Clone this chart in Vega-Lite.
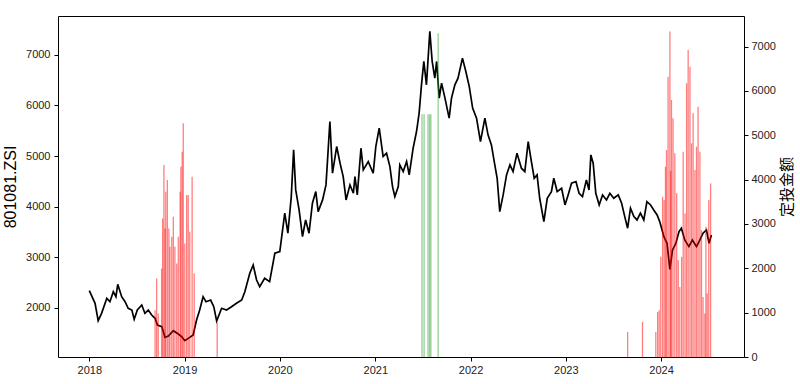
{
  "$schema": "https://vega.github.io/schema/vega-lite/v6.json",
  "autosize": {"type": "none"},
  "width": 686,
  "height": 341,
  "padding": {"left": 58, "top": 16, "right": 56, "bottom": 27},
  "background": "white",
  "config": {
    "view": {"stroke": "black", "strokeWidth": 1},
    "font": "Liberation Sans",
    "axis": {"grid": false, "domain": false, "tickColor": "black", "tickSize": 4, "labelColor": "#222", "labelFont": "Liberation Sans", "labelFontSize": 11, "titleFont": "Liberation Sans", "titleFontWeight": "normal", "titleColor": "black"}
  },
  "datasets": {
    "index": [
      {"date": "2018-01-01", "v": 2337}, {"date": "2018-01-23", "v": 2087}, {"date": "2018-02-04", "v": 1743}, {"date": "2018-02-17", "v": 1889},
      {"date": "2018-03-09", "v": 2186}, {"date": "2018-03-21", "v": 2119}, {"date": "2018-04-03", "v": 2317}, {"date": "2018-04-13", "v": 2218},
      {"date": "2018-04-20", "v": 2463}, {"date": "2018-05-05", "v": 2218}, {"date": "2018-05-18", "v": 2119}, {"date": "2018-05-30", "v": 1988},
      {"date": "2018-06-13", "v": 1954}, {"date": "2018-06-22", "v": 1770}, {"date": "2018-07-04", "v": 1954}, {"date": "2018-07-21", "v": 2053},
      {"date": "2018-08-02", "v": 1889}, {"date": "2018-08-15", "v": 1954}, {"date": "2018-08-28", "v": 1855}, {"date": "2018-09-10", "v": 1790},
      {"date": "2018-09-19", "v": 1657}, {"date": "2018-10-06", "v": 1624}, {"date": "2018-10-18", "v": 1414}, {"date": "2018-10-31", "v": 1440},
      {"date": "2018-11-19", "v": 1545}, {"date": "2018-12-08", "v": 1479}, {"date": "2018-12-21", "v": 1426}, {"date": "2019-01-02", "v": 1347},
      {"date": "2019-01-21", "v": 1414}, {"date": "2019-02-03", "v": 1459}, {"date": "2019-02-16", "v": 1756}, {"date": "2019-02-28", "v": 1954},
      {"date": "2019-03-13", "v": 2218}, {"date": "2019-03-24", "v": 2119}, {"date": "2019-04-11", "v": 2152}, {"date": "2019-04-23", "v": 2020},
      {"date": "2019-05-04", "v": 1737}, {"date": "2019-05-23", "v": 1988}, {"date": "2019-06-11", "v": 1954}, {"date": "2019-06-30", "v": 2020},
      {"date": "2019-07-19", "v": 2087}, {"date": "2019-08-08", "v": 2152}, {"date": "2019-08-20", "v": 2317}, {"date": "2019-09-08", "v": 2681},
      {"date": "2019-09-21", "v": 2845}, {"date": "2019-10-04", "v": 2548}, {"date": "2019-10-16", "v": 2416}, {"date": "2019-11-04", "v": 2582},
      {"date": "2019-11-23", "v": 2515}, {"date": "2019-12-13", "v": 3077}, {"date": "2020-01-01", "v": 3109}, {"date": "2020-01-20", "v": 3869},
      {"date": "2020-02-01", "v": 3473}, {"date": "2020-02-14", "v": 4198}, {"date": "2020-02-23", "v": 5122}, {"date": "2020-03-02", "v": 4330},
      {"date": "2020-03-15", "v": 3934}, {"date": "2020-03-28", "v": 3406}, {"date": "2020-04-09", "v": 3736}, {"date": "2020-04-22", "v": 3473},
      {"date": "2020-05-05", "v": 4066}, {"date": "2020-05-18", "v": 4297}, {"date": "2020-05-27", "v": 3901}, {"date": "2020-06-13", "v": 4132},
      {"date": "2020-06-26", "v": 4429}, {"date": "2020-07-02", "v": 4924}, {"date": "2020-07-11", "v": 5683}, {"date": "2020-07-21", "v": 4660},
      {"date": "2020-08-06", "v": 5188}, {"date": "2020-08-19", "v": 4858}, {"date": "2020-08-31", "v": 4594}, {"date": "2020-09-11", "v": 4132},
      {"date": "2020-09-26", "v": 4429}, {"date": "2020-10-09", "v": 4264}, {"date": "2020-10-15", "v": 4594}, {"date": "2020-10-24", "v": 4231},
      {"date": "2020-11-07", "v": 5155}, {"date": "2020-11-16", "v": 4726}, {"date": "2020-12-05", "v": 4891}, {"date": "2020-12-24", "v": 4660},
      {"date": "2021-01-03", "v": 5188}, {"date": "2021-01-16", "v": 5552}, {"date": "2021-01-31", "v": 4990}, {"date": "2021-02-13", "v": 5056},
      {"date": "2021-02-26", "v": 4792}, {"date": "2021-03-08", "v": 4396}, {"date": "2021-03-17", "v": 4198}, {"date": "2021-03-30", "v": 4396},
      {"date": "2021-04-05", "v": 4825}, {"date": "2021-04-18", "v": 4693}, {"date": "2021-05-01", "v": 4891}, {"date": "2021-05-11", "v": 4627},
      {"date": "2021-05-26", "v": 5155}, {"date": "2021-06-08", "v": 5485}, {"date": "2021-06-18", "v": 5849}, {"date": "2021-06-27", "v": 6409},
      {"date": "2021-07-06", "v": 6871}, {"date": "2021-07-16", "v": 6409}, {"date": "2021-07-29", "v": 7465}, {"date": "2021-08-07", "v": 6871},
      {"date": "2021-08-17", "v": 6541}, {"date": "2021-08-24", "v": 6871}, {"date": "2021-09-03", "v": 6146}, {"date": "2021-09-12", "v": 6442},
      {"date": "2021-09-25", "v": 6146}, {"date": "2021-10-11", "v": 5750}, {"date": "2021-10-20", "v": 6146}, {"date": "2021-11-02", "v": 6409},
      {"date": "2021-11-14", "v": 6541}, {"date": "2021-12-01", "v": 6937}, {"date": "2021-12-14", "v": 6673}, {"date": "2021-12-27", "v": 6376},
      {"date": "2022-01-09", "v": 5948}, {"date": "2022-01-24", "v": 5750}, {"date": "2022-02-08", "v": 5287}, {"date": "2022-02-25", "v": 5750},
      {"date": "2022-03-09", "v": 5419}, {"date": "2022-03-22", "v": 5221}, {"date": "2022-04-04", "v": 4825}, {"date": "2022-04-13", "v": 4561},
      {"date": "2022-04-23", "v": 3901}, {"date": "2022-05-06", "v": 4231}, {"date": "2022-05-19", "v": 4627}, {"date": "2022-06-01", "v": 4825},
      {"date": "2022-06-13", "v": 4693}, {"date": "2022-06-28", "v": 5056}, {"date": "2022-07-15", "v": 4759}, {"date": "2022-07-28", "v": 4693},
      {"date": "2022-08-10", "v": 5287}, {"date": "2022-08-20", "v": 4957}, {"date": "2022-09-02", "v": 4561}, {"date": "2022-09-13", "v": 4627},
      {"date": "2022-09-23", "v": 4165}, {"date": "2022-10-09", "v": 3703}, {"date": "2022-10-22", "v": 4165}, {"date": "2022-11-07", "v": 4297},
      {"date": "2022-11-16", "v": 4561}, {"date": "2022-11-29", "v": 4297}, {"date": "2022-12-16", "v": 4363}, {"date": "2022-12-29", "v": 4033},
      {"date": "2023-01-10", "v": 4231}, {"date": "2023-01-23", "v": 4462}, {"date": "2023-02-09", "v": 4495}, {"date": "2023-02-21", "v": 4264},
      {"date": "2023-03-06", "v": 4198}, {"date": "2023-03-21", "v": 4528}, {"date": "2023-03-31", "v": 4330}, {"date": "2023-04-07", "v": 5023},
      {"date": "2023-04-16", "v": 4858}, {"date": "2023-04-26", "v": 4264}, {"date": "2023-05-09", "v": 4033}, {"date": "2023-05-22", "v": 4231},
      {"date": "2023-06-06", "v": 4132}, {"date": "2023-06-19", "v": 4264}, {"date": "2023-07-04", "v": 4165}, {"date": "2023-07-21", "v": 4231},
      {"date": "2023-08-03", "v": 4066}, {"date": "2023-08-15", "v": 3802}, {"date": "2023-08-26", "v": 3572}, {"date": "2023-09-06", "v": 3968},
      {"date": "2023-09-19", "v": 3802}, {"date": "2023-10-01", "v": 3736}, {"date": "2023-10-14", "v": 3869}, {"date": "2023-10-27", "v": 3736},
      {"date": "2023-11-08", "v": 4099}, {"date": "2023-11-22", "v": 4033}, {"date": "2023-12-04", "v": 3934}, {"date": "2023-12-17", "v": 3835},
      {"date": "2023-12-27", "v": 3703}, {"date": "2024-01-12", "v": 3406}, {"date": "2024-01-24", "v": 3274}, {"date": "2024-02-04", "v": 2760},
      {"date": "2024-02-14", "v": 3142}, {"date": "2024-02-27", "v": 3274}, {"date": "2024-03-10", "v": 3505}, {"date": "2024-03-19", "v": 3572},
      {"date": "2024-04-01", "v": 3340}, {"date": "2024-04-17", "v": 3208}, {"date": "2024-04-30", "v": 3340}, {"date": "2024-05-16", "v": 3208},
      {"date": "2024-05-29", "v": 3340}, {"date": "2024-06-10", "v": 3473}, {"date": "2024-06-23", "v": 3538}, {"date": "2024-07-03", "v": 3274},
      {"date": "2024-07-12", "v": 3439}
    ],
    "bars": [
      {"date": "2018-09-10", "amt": 1054, "type": "buy"}, {"date": "2018-09-16", "amt": 1770, "type": "buy"}, {"date": "2018-09-22", "amt": 980, "type": "buy"},
      {"date": "2018-10-05", "amt": 1996, "type": "buy"}, {"date": "2018-10-09", "amt": 3125, "type": "buy"}, {"date": "2018-10-14", "amt": 4329, "type": "buy"},
      {"date": "2018-10-18", "amt": 2899, "type": "buy"}, {"date": "2018-10-21", "amt": 3726, "type": "buy"}, {"date": "2018-10-27", "amt": 3990, "type": "buy"},
      {"date": "2018-11-02", "amt": 2899, "type": "buy"}, {"date": "2018-11-06", "amt": 2484, "type": "buy"}, {"date": "2018-11-13", "amt": 2710, "type": "buy"},
      {"date": "2018-11-19", "amt": 3161, "type": "buy"}, {"date": "2018-11-25", "amt": 2484, "type": "buy"}, {"date": "2018-12-02", "amt": 2109, "type": "buy"},
      {"date": "2018-12-08", "amt": 2710, "type": "buy"}, {"date": "2018-12-15", "amt": 3726, "type": "buy"}, {"date": "2018-12-18", "amt": 4290, "type": "buy"},
      {"date": "2018-12-23", "amt": 4629, "type": "buy"}, {"date": "2018-12-27", "amt": 5270, "type": "buy"}, {"date": "2019-01-02", "amt": 2561, "type": "buy"},
      {"date": "2019-01-09", "amt": 3651, "type": "buy"}, {"date": "2019-01-15", "amt": 3651, "type": "buy"}, {"date": "2019-01-21", "amt": 2822, "type": "buy"},
      {"date": "2019-01-30", "amt": 4064, "type": "buy"}, {"date": "2019-02-07", "amt": 1883, "type": "buy"}, {"date": "2019-05-06", "amt": 790, "type": "buy"},
      {"date": "2021-06-29", "amt": 5473, "type": "sell"}, {"date": "2021-07-07", "amt": 5473, "type": "sell"}, {"date": "2021-07-22", "amt": 5473, "type": "sell"},
      {"date": "2021-07-28", "amt": 5473, "type": "sell"}, {"date": "2021-08-02", "amt": 5473, "type": "sell"}, {"date": "2021-08-30", "amt": 7302, "type": "sell"},
      {"date": "2023-08-26", "amt": 565, "type": "buy"}, {"date": "2023-10-22", "amt": 790, "type": "buy"}, {"date": "2023-12-12", "amt": 565, "type": "buy"},
      {"date": "2023-12-19", "amt": 1016, "type": "buy"}, {"date": "2023-12-25", "amt": 1054, "type": "buy"}, {"date": "2023-12-31", "amt": 2258, "type": "buy"},
      {"date": "2024-01-07", "amt": 3613, "type": "buy"}, {"date": "2024-01-13", "amt": 3538, "type": "buy"}, {"date": "2024-01-18", "amt": 4290, "type": "buy"},
      {"date": "2024-01-22", "amt": 4667, "type": "buy"}, {"date": "2024-01-28", "amt": 6322, "type": "buy"}, {"date": "2024-02-04", "amt": 7338, "type": "buy"},
      {"date": "2024-02-07", "amt": 4200, "type": "buy"}, {"date": "2024-02-10", "amt": 5796, "type": "buy"}, {"date": "2024-02-16", "amt": 5383, "type": "buy"},
      {"date": "2024-02-23", "amt": 4593, "type": "buy"}, {"date": "2024-03-01", "amt": 3690, "type": "buy"}, {"date": "2024-03-07", "amt": 2183, "type": "buy"},
      {"date": "2024-03-13", "amt": 1581, "type": "buy"}, {"date": "2024-03-20", "amt": 2258, "type": "buy"}, {"date": "2024-03-26", "amt": 4629, "type": "buy"},
      {"date": "2024-04-02", "amt": 3238, "type": "buy"}, {"date": "2024-04-08", "amt": 6173, "type": "buy"}, {"date": "2024-04-14", "amt": 6925, "type": "buy"},
      {"date": "2024-04-21", "amt": 6548, "type": "buy"}, {"date": "2024-04-27", "amt": 4818, "type": "buy"}, {"date": "2024-05-03", "amt": 5496, "type": "buy"},
      {"date": "2024-05-10", "amt": 4216, "type": "buy"}, {"date": "2024-05-16", "amt": 4742, "type": "buy"}, {"date": "2024-05-22", "amt": 5645, "type": "buy"},
      {"date": "2024-05-29", "amt": 4629, "type": "buy"}, {"date": "2024-06-04", "amt": 2861, "type": "buy"}, {"date": "2024-06-10", "amt": 1355, "type": "buy"},
      {"date": "2024-06-17", "amt": 980, "type": "buy"}, {"date": "2024-06-21", "amt": 2935, "type": "buy"}, {"date": "2024-06-26", "amt": 1432, "type": "buy"},
      {"date": "2024-07-02", "amt": 3538, "type": "buy"}, {"date": "2024-07-09", "amt": 3915, "type": "buy"}
    ]
  },
  "layer": [
    {
      "data": {"name": "index"},
      "mark": {"type": "line", "color": "black", "strokeWidth": 1.7},
      "encoding": {
        "x": {"field": "date", "type": "temporal", "scale": {"domain": ["2017-09-03", "2024-11-14"]},
              "axis": {"title": null, "format": "%Y", "tickCount": {"interval": "year", "step": 1}, "labelPadding": 3}},
        "y": {"field": "v", "type": "quantitative", "scale": {"domain": [1025, 7770], "nice": false, "zero": false},
              "axis": {"title": "801081.ZSI", "format": "d", "values": [2000, 3000, 4000, 5000, 6000, 7000], "titleFontSize": 16, "titlePadding": 7, "labelPadding": 4}}
      }
    },
    {
      "data": {"name": "bars"},
      "mark": {"type": "rule", "strokeWidth": 1.3, "opacity": 0.5},
      "encoding": {
        "x": {"field": "date", "type": "temporal"},
        "y": {"field": "amt", "type": "quantitative", "scale": {"domain": [0, 7690], "nice": false},
              "axis": {"orient": "right", "title": "定投金额", "format": "d", "titleFont": "Noto Sans CJK SC", "titleFontSize": 15, "titleAngle": -90, "titleBaseline": "top", "titlePadding": 4, "values": [0, 1000, 2000, 3000, 4000, 5000, 6000, 7000], "labelPadding": 3}},
        "y2": {"datum": 0},
        "color": {"field": "type", "type": "nominal", "scale": {"domain": ["buy", "sell"], "range": ["#ff0000", "#2ca02c"]}, "legend": null}
      }
    }
  ],
  "resolve": {"scale": {"y": "independent"}}
}
